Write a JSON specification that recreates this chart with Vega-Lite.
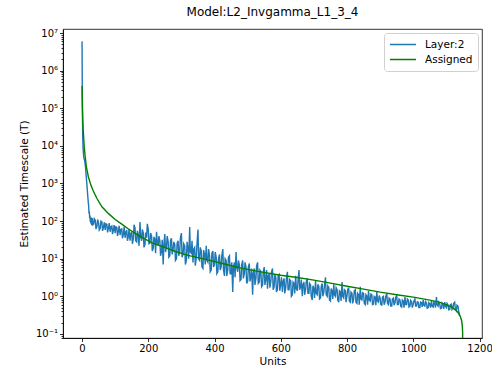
{
  "$schema": "https://vega.github.io/schema/vega-lite/v6.json",
  "width": 419,
  "height": 309,
  "autosize": {"type": "none"},
  "padding": {"left": 63, "top": 29, "right": 10, "bottom": 35},
  "title": {"text": "Model:L2_Invgamma_L1_3_4", "fontSize": 12, "fontWeight": "normal", "color": "black", "offset": 9},
  "config": {
    "font": "DejaVu Sans",
    "view": {"stroke": "black", "strokeWidth": 0.8},
    "axis": {"domainColor": "black", "domainWidth": 0.8, "tickColor": "black", "tickWidth": 0.8, "tickSize": 3.5, "labelColor": "black", "titleColor": "black", "labelFontSize": 10, "titleFontSize": 10.5, "titleFontWeight": "normal", "grid": false, "labelPadding": 2}
  },
  "datasets": {
    "layer2": [
      {"x":0,"y":6000000},{"x":1,"y":100000},{"x":2,"y":20000},{"x":3,"y":9000},{"x":5,"y":5000},{"x":8,"y":4000},{"x":10,"y":3000},{"x":12,"y":1800},{"x":14,"y":1100},{"x":16,"y":650},{"x":18,"y":380},
      {"x":20,"y":250},{"x":21,"y":160},{"x":22,"y":180},{"x":23,"y":120},{"x":24,"y":140},{"x":25,"y":95},{"x":26,"y":110},{"x":27,"y":85},{"x":28,"y":125},{"x":29,"y":78},{"x":30,"y":95},{"x":31,"y":120},{"x":32,"y":75},{"x":33,"y":100},
      {"x":35,"y":80},{"x":37,"y":115},{"x":40,"y":105},{"x":42,"y":62},{"x":45,"y":72},{"x":47,"y":110},{"x":50,"y":88},{"x":52,"y":58},{"x":55,"y":64},{"x":57,"y":100},{"x":60,"y":95},{"x":62,"y":55},{"x":65,"y":70},{"x":67,"y":92},{"x":70,"y":58},{"x":72,"y":85},{"x":75,"y":82},{"x":77,"y":50},{"x":80,"y":66},{"x":82,"y":88},{"x":85,"y":52},{"x":87,"y":70},{"x":90,"y":74},{"x":92,"y":45},{"x":95,"y":60},{"x":97,"y":78},{"x":100,"y":48},{"x":102,"y":70},{"x":105,"y":68},{"x":107,"y":40},{"x":110,"y":55},{"x":112,"y":75},{"x":115,"y":42},{"x":117,"y":60},{"x":120,"y":62},{"x":122,"y":35},{"x":125,"y":45},{"x":127,"y":70},{"x":130,"y":36},{"x":132,"y":50},{"x":135,"y":58},{"x":137,"y":30},{"x":140,"y":40},{"x":142,"y":62},{"x":145,"y":30},{"x":147,"y":45},{"x":150,"y":52},{"x":152,"y":25},{"x":155,"y":34},{"x":157,"y":80},{"x":160,"y":65},{"x":162,"y":30},{"x":165,"y":28},{"x":167,"y":55},{"x":170,"y":42},{"x":172,"y":22},{"x":175,"y":95},{"x":177,"y":38},{"x":180,"y":30},{"x":182,"y":60},{"x":185,"y":48},{"x":187,"y":20},{"x":190,"y":24},{"x":192,"y":50},{"x":195,"y":36},{"x":197,"y":85},{"x":200,"y":60},{"x":202,"y":25},{"x":205,"y":26},{"x":207,"y":48},{"x":210,"y":40},{"x":212,"y":16},{"x":215,"y":19},{"x":217,"y":38},{"x":220,"y":33},{"x":222,"y":14},{"x":225,"y":52},{"x":227,"y":28},{"x":230,"y":22},{"x":232,"y":40},{"x":235,"y":30},{"x":237,"y":12},{"x":240,"y":16},{"x":242,"y":32},{"x":245,"y":7},{"x":247,"y":24},{"x":250,"y":45},{"x":252,"y":15},{"x":255,"y":20},{"x":257,"y":40},{"x":260,"y":28},{"x":262,"y":11},{"x":265,"y":12},{"x":267,"y":30},{"x":270,"y":35},{"x":272,"y":13},{"x":275,"y":18},{"x":277,"y":28},{"x":280,"y":24},{"x":282,"y":9},{"x":285,"y":10},{"x":287,"y":26},{"x":290,"y":30},{"x":292,"y":12},{"x":295,"y":16},{"x":297,"y":36},{"x":300,"y":48},{"x":302,"y":11},{"x":305,"y":13},{"x":307,"y":25},{"x":310,"y":22},{"x":312,"y":7},{"x":315,"y":9},{"x":317,"y":28},{"x":320,"y":18},{"x":322,"y":10},{"x":325,"y":70},{"x":327,"y":15},{"x":330,"y":14},{"x":332,"y":30},{"x":335,"y":8},{"x":337,"y":18},{"x":340,"y":20},{"x":342,"y":6.5},{"x":345,"y":11},{"x":347,"y":25},{"x":350,"y":60},{"x":352,"y":10},{"x":355,"y":9},{"x":357,"y":20},{"x":360,"y":16},{"x":362,"y":6},{"x":365,"y":5.5},{"x":367,"y":17},{"x":370,"y":13},{"x":372,"y":7},{"x":375,"y":22},{"x":377,"y":9},{"x":380,"y":8},{"x":382,"y":18},{"x":385,"y":12},{"x":387,"y":4.5},{"x":390,"y":5},{"x":392,"y":14},{"x":395,"y":16},{"x":397,"y":6},{"x":400,"y":7},{"x":402,"y":15},{"x":405,"y":11},{"x":407,"y":4},{"x":410,"y":4.5},{"x":412,"y":10},{"x":415,"y":13},{"x":417,"y":5},{"x":420,"y":6},{"x":422,"y":12},{"x":425,"y":18},{"x":427,"y":5},{"x":430,"y":3.5},{"x":432,"y":10},{"x":435,"y":9},{"x":437,"y":3.5},{"x":440,"y":5},{"x":442,"y":11},{"x":445,"y":12},{"x":447,"y":4},{"x":450,"y":4},{"x":452,"y":8},{"x":455,"y":1.3},{"x":457,"y":6},{"x":460,"y":8},{"x":462,"y":3.2},{"x":465,"y":15},{"x":467,"y":6},{"x":470,"y":4.5},{"x":472,"y":9},{"x":475,"y":7},{"x":477,"y":2.6},{"x":480,"y":2.8},{"x":482,"y":7},{"x":485,"y":9},{"x":487,"y":3},{"x":490,"y":4},{"x":492,"y":8},{"x":495,"y":6},{"x":497,"y":2.2},{"x":500,"y":2.5},{"x":502,"y":6},{"x":505,"y":7.5},{"x":507,"y":2.5},{"x":510,"y":3.5},{"x":512,"y":5.5},{"x":515,"y":1.1},{"x":517,"y":4},{"x":520,"y":5.5},{"x":522,"y":2},{"x":525,"y":3},{"x":527,"y":6.5},{"x":530,"y":8},{"x":532,"y":2.2},{"x":535,"y":2.4},{"x":537,"y":5},{"x":540,"y":4.5},{"x":542,"y":1.8},{"x":545,"y":2},{"x":547,"y":4.5},{"x":550,"y":6},{"x":552,"y":2},{"x":555,"y":3},{"x":557,"y":5},{"x":560,"y":1.6},{"x":562,"y":3.5},{"x":565,"y":4},{"x":567,"y":1.7},{"x":570,"y":2.5},{"x":572,"y":4.5},{"x":575,"y":5.5},{"x":577,"y":1.5},{"x":580,"y":1.8},{"x":582,"y":3.8},{"x":585,"y":3.2},{"x":587,"y":1.3},{"x":590,"y":1.5},{"x":592,"y":3.5},{"x":595,"y":3.8},{"x":597,"y":1.4},{"x":600,"y":2.2},{"x":602,"y":3.2},{"x":605,"y":1.3},{"x":607,"y":2.5},{"x":610,"y":3},{"x":612,"y":1.2},{"x":615,"y":1.7},{"x":617,"y":3},{"x":620,"y":4.5},{"x":622,"y":1.5},{"x":625,"y":1.5},{"x":627,"y":2.8},{"x":630,"y":2.6},{"x":632,"y":1.0},{"x":635,"y":1.1},{"x":637,"y":2.4},{"x":640,"y":2.2},{"x":642,"y":1.2},{"x":645,"y":3.5},{"x":647,"y":1.6},{"x":650,"y":1.4},{"x":652,"y":2.6},{"x":655,"y":5},{"x":657,"y":1.5},{"x":660,"y":1.8},{"x":662,"y":2.8},{"x":665,"y":1.0},{"x":667,"y":2},{"x":670,"y":2.4},{"x":672,"y":1.1},{"x":675,"y":1.5},{"x":677,"y":2.5},{"x":680,"y":3},{"x":682,"y":1.2},{"x":685,"y":1.2},{"x":687,"y":2.2},{"x":690,"y":2},{"x":692,"y":1.0},{"x":695,"y":0.8},{"x":697,"y":1.9},{"x":700,"y":1.6},{"x":702,"y":0.9},{"x":705,"y":2.6},{"x":707,"y":1.2},{"x":710,"y":1.1},{"x":712,"y":2.1},{"x":715,"y":1.8},{"x":717,"y":0.85},{"x":720,"y":0.9},{"x":722,"y":1.8},{"x":725,"y":2.2},{"x":727,"y":1.0},{"x":730,"y":1.3},{"x":732,"y":2.0},{"x":735,"y":3.2},{"x":737,"y":1.1},{"x":740,"y":1.0},{"x":742,"y":1.9},{"x":745,"y":1.7},{"x":747,"y":0.8},{"x":750,"y":0.75},{"x":752,"y":1.6},{"x":755,"y":1.4},{"x":757,"y":0.85},{"x":760,"y":2.1},{"x":762,"y":1.1},{"x":765,"y":1.0},{"x":767,"y":1.7},{"x":770,"y":1.5},{"x":772,"y":0.8},{"x":775,"y":0.7},{"x":777,"y":1.4},{"x":780,"y":1.3},{"x":782,"y":0.75},{"x":785,"y":2.4},{"x":787,"y":1.0},{"x":790,"y":0.9},{"x":792,"y":1.5},{"x":795,"y":1.4},{"x":797,"y":0.7},{"x":800,"y":1.05},{"x":802,"y":1.5},{"x":805,"y":1.7},{"x":807,"y":0.75},{"x":810,"y":0.7},{"x":812,"y":1.3},{"x":815,"y":1.2},{"x":817,"y":0.65},{"x":820,"y":0.85},{"x":822,"y":1.4},{"x":825,"y":1.5},{"x":827,"y":0.7},{"x":830,"y":0.65},{"x":832,"y":1.2},{"x":835,"y":1.1},{"x":837,"y":0.6},{"x":840,"y":1.8},{"x":842,"y":0.85},{"x":845,"y":0.8},{"x":847,"y":1.25},{"x":850,"y":1.2},{"x":852,"y":0.65},{"x":855,"y":0.6},{"x":857,"y":1.1},{"x":860,"y":1.0},{"x":862,"y":0.6},{"x":865,"y":1.4},{"x":867,"y":0.8},{"x":870,"y":0.75},{"x":872,"y":1.15},{"x":875,"y":1.1},{"x":877,"y":0.6},{"x":880,"y":0.62},{"x":882,"y":1.0},{"x":885,"y":0.95},{"x":887,"y":0.58},{"x":890,"y":1.3},{"x":892,"y":0.75},{"x":895,"y":0.7},{"x":897,"y":1.05},{"x":900,"y":0.9},{"x":902,"y":0.6},{"x":905,"y":0.58},{"x":907,"y":0.95},{"x":910,"y":1.0},{"x":912,"y":0.6},{"x":915,"y":0.72},{"x":917,"y":1.0},{"x":920,"y":1.2},{"x":922,"y":0.65},{"x":925,"y":0.6},{"x":927,"y":0.9},{"x":930,"y":0.85},{"x":932,"y":0.55},{"x":935,"y":0.55},{"x":937,"y":0.85},{"x":940,"y":0.9},{"x":942,"y":0.58},{"x":945,"y":0.68},{"x":947,"y":0.95},{"x":950,"y":1.05},{"x":952,"y":0.6},{"x":955,"y":0.6},{"x":957,"y":0.85},{"x":960,"y":0.8},{"x":962,"y":0.55},{"x":965,"y":0.52},{"x":967,"y":0.8},{"x":970,"y":0.75},{"x":972,"y":0.5},{"x":975,"y":0.95},{"x":977,"y":0.6},{"x":980,"y":0.6},{"x":982,"y":0.85},{"x":985,"y":0.8},{"x":987,"y":0.52},{"x":990,"y":0.55},{"x":992,"y":0.78},{"x":995,"y":0.72},{"x":997,"y":0.5},{"x":1000,"y":0.62},{"x":1002,"y":0.75},{"x":1005,"y":0.85},{"x":1007,"y":0.55},{"x":1010,"y":0.55},{"x":1012,"y":0.72},{"x":1015,"y":0.7},{"x":1017,"y":0.5},{"x":1020,"y":0.5},{"x":1022,"y":0.7},{"x":1025,"y":0.68},{"x":1027,"y":0.52},{"x":1030,"y":0.8},{"x":1032,"y":0.58},{"x":1035,"y":0.55},{"x":1037,"y":0.72},{"x":1040,"y":0.66},{"x":1042,"y":0.48},{"x":1045,"y":0.5},{"x":1047,"y":0.68},{"x":1050,"y":0.62},{"x":1052,"y":0.5},{"x":1055,"y":0.75},{"x":1057,"y":0.55},{"x":1060,"y":0.52},{"x":1062,"y":0.7},{"x":1065,"y":0.64},{"x":1067,"y":0.5},{"x":1070,"y":0.95},{"x":1072,"y":0.6},{"x":1075,"y":0.55},{"x":1077,"y":0.7},{"x":1080,"y":0.62},{"x":1082,"y":0.47},{"x":1085,"y":0.48},{"x":1087,"y":0.66},{"x":1090,"y":0.6},{"x":1092,"y":0.46},{"x":1095,"y":0.7},{"x":1097,"y":0.55},{"x":1100,"y":0.5},{"x":1102,"y":0.65},{"x":1105,"y":0.58},{"x":1107,"y":0.44},{"x":1110,"y":0.45},{"x":1112,"y":0.6},{"x":1115,"y":0.62},{"x":1117,"y":0.45},{"x":1120,"y":0.5},{"x":1122,"y":0.65},{"x":1125,"y":0.7},{"x":1127,"y":0.48},{"x":1130,"y":0.42},{"x":1132,"y":0.58},{"x":1135,"y":0.55},{"x":1137,"y":0.4},{"x":1138,"y":0.38},{"x":1140,"y":0.3}
    ],
    "assigned": [
      {"x":0,"y":389000},{"x":1,"y":125900},{"x":2,"y":56200},{"x":3,"y":31600},{"x":4,"y":22400},{"x":6,"y":11200},{"x":9,"y":5620},{"x":13,"y":2820},{"x":19,"y":1510},{"x":27,"y":891},{"x":34,"y":631},{"x":45,"y":398},{"x":60,"y":240},{"x":80,"y":158},{"x":100,"y":110},{"x":120,"y":83.2},{"x":140,"y":61.7},{"x":170,"y":41.7},{"x":210,"y":26.9},{"x":250,"y":20.0},{"x":280,"y":15.8},{"x":320,"y":12.3},{"x":380,"y":9.33},{"x":430,"y":7.24},{"x":480,"y":5.62},{"x":540,"y":4.47},{"x":600,"y":3.63},{"x":650,"y":3.16},{"x":700,"y":2.69},{"x":750,"y":2.24},{"x":800,"y":1.86},{"x":850,"y":1.55},{"x":900,"y":1.29},{"x":950,"y":1.10},{"x":1000,"y":0.955},{"x":1050,"y":0.794},{"x":1080,"y":0.692},{"x":1100,"y":0.603},{"x":1115,"y":0.525},{"x":1127,"y":0.437},{"x":1135,"y":0.372},{"x":1142,"y":0.295},{"x":1146,"y":0.224},{"x":1148,"y":0.166},{"x":1149,"y":0.112},{"x":1150,"y":0.001}
    ]
  },
  "encoding": {
    "x": {"field": "x", "type": "quantitative", "title": "Units",
      "scale": {"domain": [-57.5, 1207.5], "nice": false, "zero": false},
      "axis": {"values": [0, 200, 400, 600, 800, 1000, 1200], "format": "d", "labelFlush": false, "titlePadding": 3}},
    "y": {"field": "y", "type": "quantitative", "title": "Estimated Timescale (T)",
      "scale": {"type": "log", "domain": [0.078, 12800000], "nice": false},
      "axis": {
        "values": [0.08,0.09,0.1,0.2,0.3,0.4,0.5,0.6,0.7,0.8,0.9,1,2,3,4,5,6,7,8,9,10,20,30,40,50,60,70,80,90,100,200,300,400,500,600,700,800,900,1000,2000,3000,4000,5000,6000,7000,8000,9000,10000,20000,30000,40000,50000,60000,70000,80000,90000,100000,200000,300000,400000,500000,600000,700000,800000,900000,1000000,2000000,3000000,4000000,5000000,6000000,7000000,8000000,9000000,10000000],
        "labelExpr": "abs(log(datum.value)/LN10 - round(log(datum.value)/LN10)) < 0.001 ? ['10⁻¹','10⁰','10¹','10²','10³','10⁴','10⁵','10⁶','10⁷'][round(log(datum.value)/LN10)+1] : ''",
        "labelOverlap": false,
        "labelFlush": false,
        "tickSize": {"condition": {"test": "abs(log(datum.value)/LN10 - round(log(datum.value)/LN10)) < 0.001", "value": 3.5}, "value": 2},
        "titlePadding": 6
      }}
  },
  "layer": [
    {"data": {"name": "layer2"}, "mark": {"type": "line", "strokeWidth": 1.4, "clip": true},
     "encoding": {"color": {"datum": "Layer:2", "type": "nominal",
      "scale": {"domain": ["Layer:2", "Assigned"], "range": ["#1f77b4", "#008000"]},
      "legend": {"title": null, "orient": "top-right", "symbolType": "stroke", "symbolSize": 676, "symbolStrokeWidth": 1.5, "clipHeight": 13, "rowPadding": 2, "labelOffset": 8, "labelFontSize": 10.5, "labelColor": "black", "fillColor": "white", "strokeColor": "#d0d0d0", "cornerRadius": 3, "padding": 5, "offset": 4}}}},
    {"data": {"name": "assigned"}, "mark": {"type": "line", "strokeWidth": 1.4, "clip": true},
     "encoding": {"color": {"datum": "Assigned", "type": "nominal"}}}
  ]
}
